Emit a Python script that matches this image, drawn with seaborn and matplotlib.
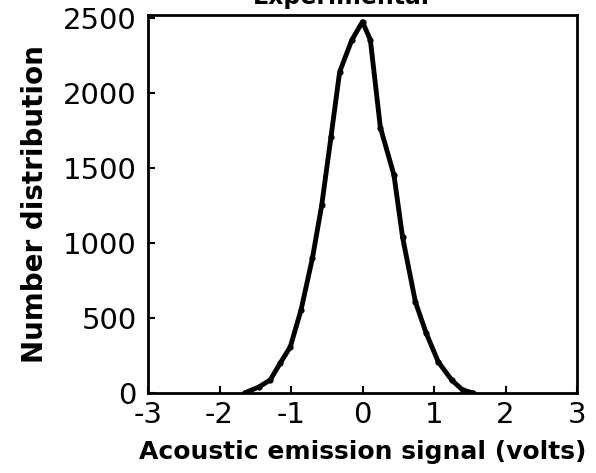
import numpy as np
import pandas as pd
import matplotlib
matplotlib.use("Agg")
import matplotlib.pyplot as plt
import seaborn as sns

# --- Data ---
signal_volts = [-1.65, -1.45, -1.29, -1.15, -1.01, -0.86, -0.70, -0.57, -0.44, -0.32,
                -0.15, 0.0, 0.11, 0.25, 0.44, 0.56, 0.74, 0.89, 1.06, 1.25, 1.40, 1.55]
number_dist = [0, 40, 87, 200, 307, 553, 900, 1253, 1710, 2140,
               2353, 2475, 2353, 1770, 1453, 1040, 607, 400, 207, 85, 20, 0]
x_ticks = [-3, -2, -1, 0, 1, 2, 3]
x_tick_labels = ["-3", "-2", "-1", "0", "1", "2", "3"]
y_ticks = [0, 500, 1000, 1500, 2000, 2500]


def set_style():
    sns.set_theme(style="ticks")
    plt.rcParams['font.family'] = ['DejaVu Sans']
    plt.rcParams['axes.unicode_minus'] = False
    plt.rcParams['xtick.direction'] = 'in'
    plt.rcParams['ytick.direction'] = 'in'


def main():
    set_style()
    df = pd.DataFrame({'signal': signal_volts, 'count': number_dist})

    fig = plt.figure(figsize=(5.96, 4.73), dpi=100)
    ax = fig.add_axes([148 / 596, 1 - 393 / 473, (577 - 148) / 596, (393 - 15) / 473])

    sns.lineplot(data=df, x='signal', y='count', ax=ax, color='black', lw=3.5,
                 marker='o', markersize=4.5, markeredgewidth=0)

    ax.set_xlim(-3, 3)
    ax.set_ylim(0, 2520)
    ax.set_xticks(x_ticks)
    ax.set_xticklabels(x_tick_labels)
    ax.set_yticks(y_ticks)
    ax.tick_params(axis='both', length=5, width=1.5, color='black',
                   labelsize=21, labelcolor='black', top=False, right=False)
    ax.tick_params(axis='x', pad=6)
    ax.tick_params(axis='y', pad=8)

    for s in ax.spines.values():
        s.set_visible(True)
        s.set_linewidth(2)
        s.set_color('black')

    ax.set_xlabel('Acoustic emission signal (volts)', fontsize=18, fontweight='bold',
                  color='black', labelpad=8)
    ax.set_ylabel('Number distribution', fontsize=20, fontweight='bold',
                  color='black', labelpad=10)

    # title is cut off by the top edge in the reference
    fig.text(0.572, 0.9915, 'Experimental', ha='center', va='baseline',
             fontsize=17, fontweight='bold', color='black')

    fig.savefig('out.png', dpi=100, facecolor='white')
    plt.close(fig)


if __name__ == "__main__":
    main()
